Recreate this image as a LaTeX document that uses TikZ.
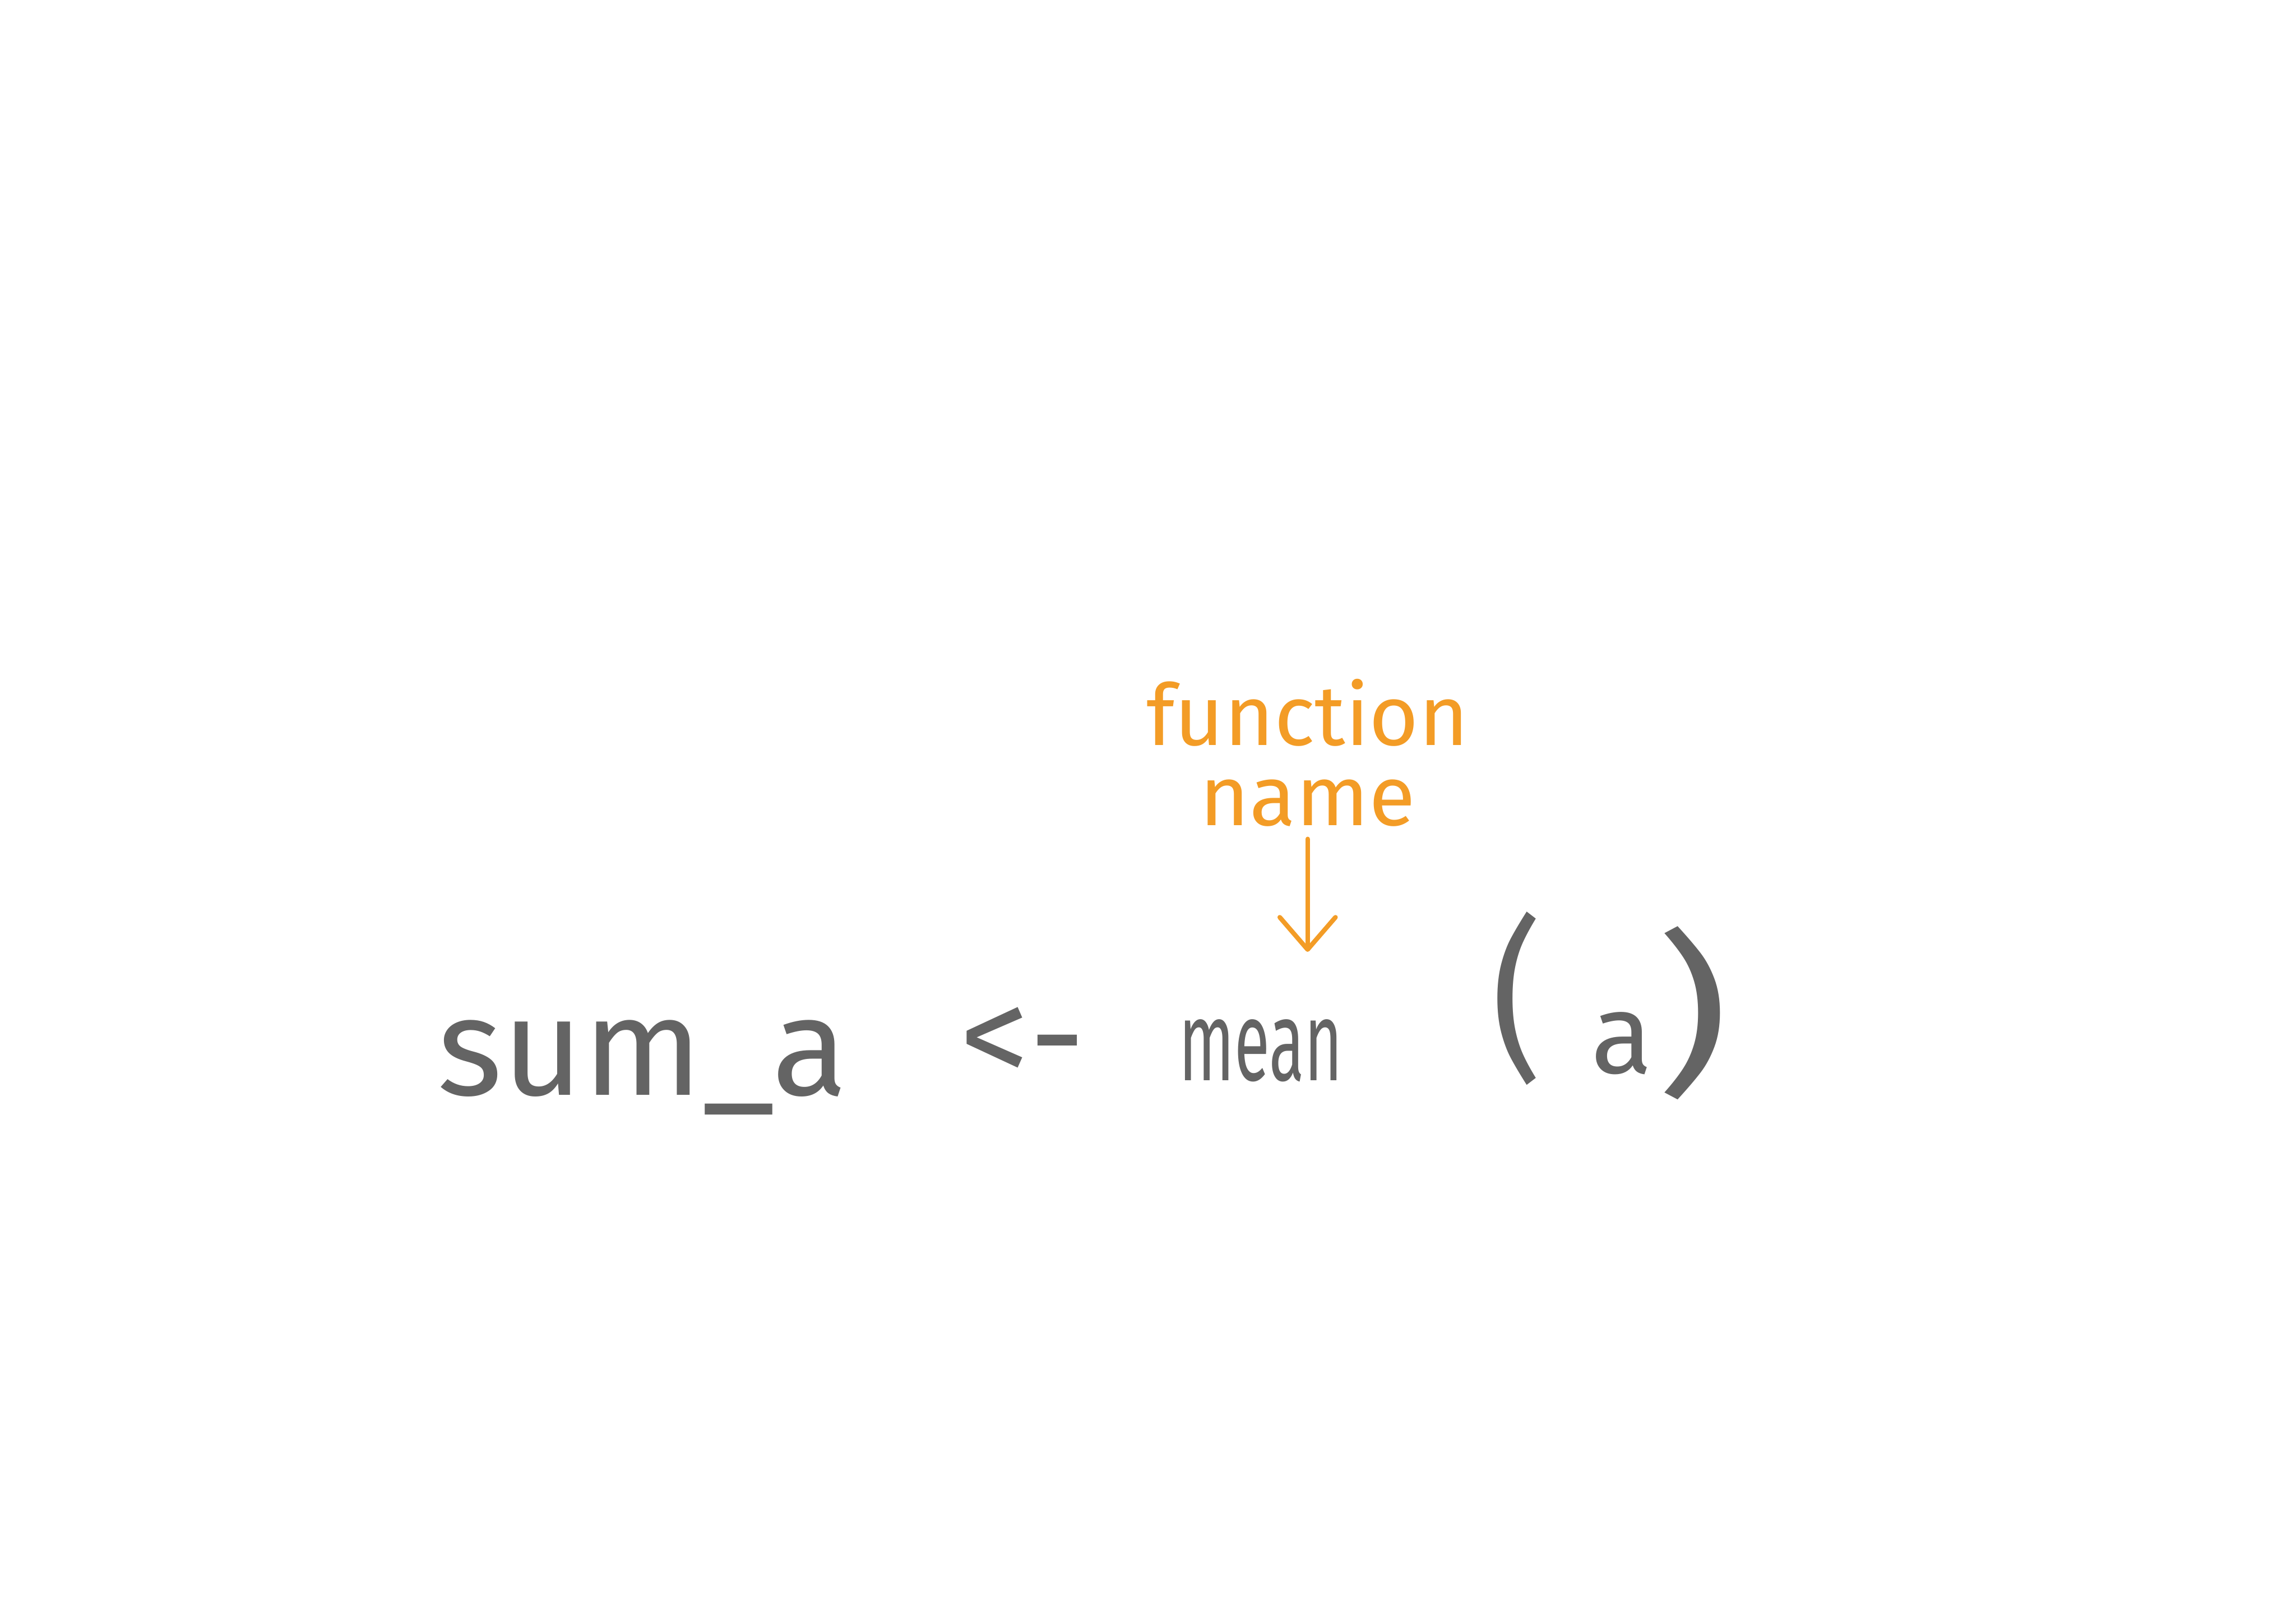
\documentclass[tikz,border=0pt]{standalone}
\usepackage{fontspec}
\setmainfont{Fira Sans}
\usetikzlibrary{arrows.meta}
\definecolor{chalk}{HTML}{646464}
\definecolor{marker}{HTML}{F39C26}

\begin{document}
\begin{tikzpicture}[x=0.01cm, y=-0.01cm,
  code/.style={text=chalk, inner sep=0pt, font=\fontsize{27}{30}\selectfont},
  paren/.style={code, font=\fontsize{34}{36}\selectfont, transform shape},
  note/.style={text=marker, inner sep=0pt, align=center, font=\fontsize{16.5}{15.5}\selectfont},
  pointer/.style={draw=marker, line width=0.9pt, line cap=round, -{Straight Barb[length=2.2mm, width=3.8mm, round]}}]
\useasboundingbox (0,0) rectangle (1568,1109);
\node[code, anchor=base west](lhs) at (298,748){sum\_a};
\node[code, anchor=base west](assign) at (655,740){<-};
\node[code, anchor=base west, font=\fontsize{22}{24}\selectfont, xscale=0.57, transform shape](fun) at (805,738){mean};
\node[paren, xscale=0.9](lpar) at (1036,682){(};
\node[code, anchor=base west, font=\fontsize{22}{24}\selectfont](arg) at (1086,733){a};
\node[paren, xscale=1.3](rpar) at (1156,692){)};
\node[note](lbl) at (893,514){function\\name};
\coordinate (tip) at (893,650);
\draw[pointer, shorten <=0.08cm] (lbl.south) -- (tip);
\end{tikzpicture}
\end{document}
